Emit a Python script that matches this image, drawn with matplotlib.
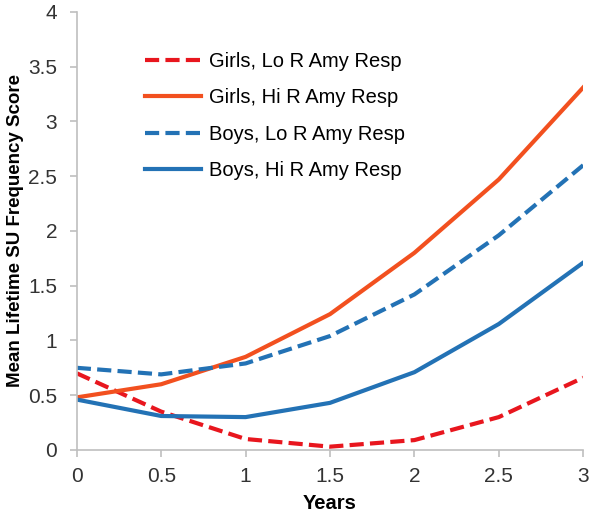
"""Mean lifetime SU frequency score over time by sex and R amygdala response."""
import matplotlib
matplotlib.use("Agg")
import matplotlib.pyplot as plt

plt.rcParams["font.family"] = ["Liberation Sans", "DejaVu Sans"]

years = [0, 0.5, 1, 1.5, 2, 2.5, 3]
girls_lo = [0.70, 0.35, 0.10, 0.03, 0.09, 0.30, 0.66]
girls_hi = [0.48, 0.60, 0.85, 1.24, 1.80, 2.47, 3.31]
boys_lo = [0.75, 0.69, 0.79, 1.04, 1.42, 1.96, 2.60]
boys_hi = [0.46, 0.31, 0.30, 0.43, 0.71, 1.15, 1.71]

labels = ["Girls, Lo R Amy Resp", "Girls, Hi R Amy Resp",
          "Boys, Lo R Amy Resp", "Boys, Hi R Amy Resp"]

red, orange, blue = "#E8161E", "#F2501F", "#2372B5"
grey = "#BFBFBF"

fig = plt.figure(figsize=(6, 5.16), dpi=100)
ax = fig.add_axes([0.128, 0.128, 0.844, 0.849])

lw = 3
dash = (0, (3.4, 1.5))
ax.plot(years, girls_lo, color=red, lw=lw, ls=dash, label=labels[0])
ax.plot(years, girls_hi, color=orange, lw=lw, label=labels[1])
ax.plot(years, boys_lo, color=blue, lw=lw, ls=dash, label=labels[2])
ax.plot(years, boys_hi, color=blue, lw=lw, label=labels[3])

ax.set_xlim(0, 3)
ax.set_ylim(0, 4)
ax.set_xticks([0, 0.5, 1, 1.5, 2, 2.5, 3])
ax.set_xticklabels(["0", "0.5", "1", "1.5", "2", "2.5", "3"])
ax.set_yticks([0, 0.5, 1, 1.5, 2, 2.5, 3, 3.5, 4])
ax.set_yticklabels(["0", "0.5", "1", "1.5", "2", "2.5", "3", "3.5", "4"])

for s in ("top", "right"):
    ax.spines[s].set_visible(False)
for s in ("left", "bottom"):
    ax.spines[s].set_color(grey)
    ax.spines[s].set_linewidth(1.2)
ax.tick_params(colors=grey, labelcolor="#333333", labelsize=15,
               direction="out", length=5, width=1.2)
ax.tick_params(axis="x", pad=7)
ax.tick_params(axis="y", pad=9)

ax.set_xlabel("Years", fontsize=14.5, fontweight="bold", labelpad=6)
ax.set_ylabel("Mean Lifetime SU Frequency Score", fontsize=13.5,
              fontweight="bold", labelpad=3)

ax.legend(loc="upper left", bbox_to_anchor=(0.134, 0.909), frameon=False,
          borderpad=0, borderaxespad=0, fontsize=14.5, handlelength=2.8,
          labelspacing=0.87, handletextpad=0.4)

fig.savefig("out.png", dpi=100)
